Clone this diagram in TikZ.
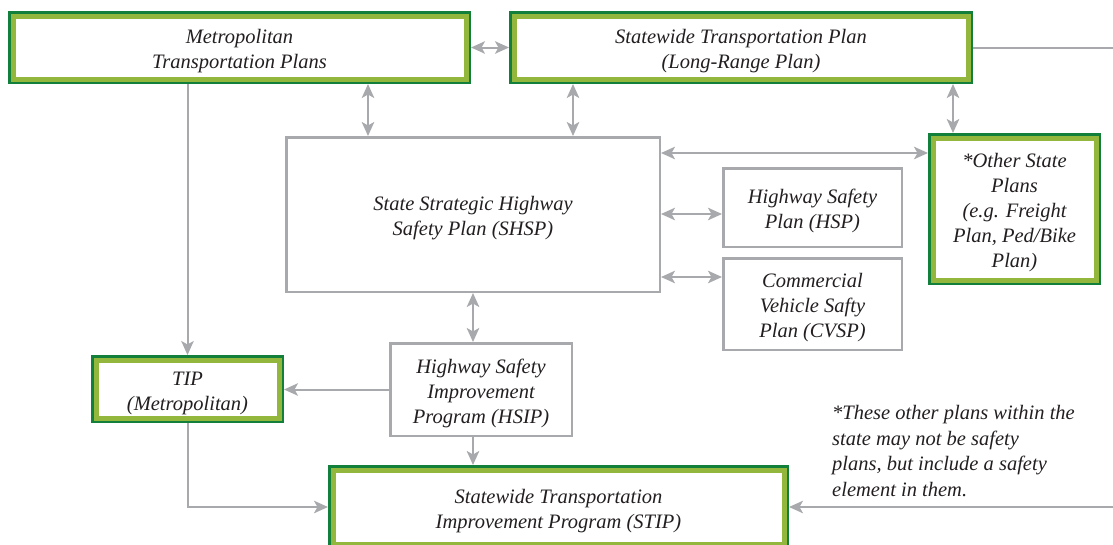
\documentclass[tikz,border=0pt]{standalone}
\usepackage{fontspec}
\setmainfont{Liberation Serif}
\usetikzlibrary{arrows.meta}
\definecolor{dg}{RGB}{18,128,58}
\definecolor{lg}{RGB}{146,183,60}
\definecolor{gr}{RGB}{167,169,172}
\definecolor{tx}{RGB}{35,31,32}
\newcommand\gfr[1]{\draw[dg,line width=2.5pt] ([shift={(1.25pt,-1.25pt)}]#1.north west) rectangle ([shift={(-1.25pt,1.25pt)}]#1.south east);}
\newcommand\tp{\rule{0pt}{21.5pt}}
\tikzset{
  txt/.style={font=\fontsize{20.5}{25}\selectfont\itshape, text=tx, align=center, inner sep=0pt},
  greenbox/.style={txt, draw=lg, line width=5pt, fill=white, outer sep=5pt},
  graybox/.style={txt, draw=gr, line width=2.5pt, fill=white},
  conn/.style={draw=gr, line width=2pt},
  tipstyle/.style={},
  arr/.style={conn, -{Stealth[length=14pt,width=12.5pt,inset=3.5pt]}},
  dbl/.style={conn, {Stealth[length=14pt,width=12.5pt,inset=3.5pt]}-{Stealth[length=14pt,width=12.5pt,inset=3.5pt]}}
}
\begin{document}
\begin{tikzpicture}[x=1pt,y=-1pt]
\path[use as bounding box] (0,0) rectangle (1113,544);
\clip (0,0) rectangle (1113,544);
% nodes
\node[greenbox, minimum width=453, minimum height=63] (metro) at (239.5,47.5) {\tp Metropolitan\\Transportation Plans};
\gfr{metro}
\node[greenbox, minimum width=454, minimum height=63] (stp) at (741,47.5) {\tp Statewide Transportation Plan\\(Long-Range Plan)};
\gfr{stp}
\node[graybox, minimum width=373.5, minimum height=154.5] (shsp) at (473,214.5) {\tp State Strategic Highway\\Safety Plan (SHSP)};
\node[graybox, minimum width=178.5, minimum height=78.5] (hsp) at (812.5,207.5) {\tp Highway Safety\\Plan (HSP)};
\node[graybox, minimum width=178.5, minimum height=91.5] (cvsp) at (812.5,304) {\tp Commercial\\Vehicle Safty\\Plan (CVSP)};
\node[greenbox, minimum width=163, minimum height=142] (other) at (1014.5,209) {\tp *Other State\\Plans\\(e.g. Freight\\Plan, Ped/Bike\\Plan)};
\gfr{other}
\node[greenbox, minimum width=183, minimum height=58] (tip) at (187.5,389) {\tp TIP\\(Metropolitan)};
\gfr{tip}
\node[graybox, minimum width=181.5, minimum height=92.5] (hsip) at (481,389.5) {\tp Highway Safety\\Improvement\\Program (HSIP)};
\node[greenbox, minimum width=451, minimum height=74] (stip) at (558.5,507) {\tp Statewide Transportation\\Improvement Program (STIP)};
\gfr{stip}
\node[txt, font=\fontsize{20.5}{25.7}\selectfont\itshape, align=left, anchor=north west] (note) at (832,405) {*These other plans within the\\state may not be safety\\plans, but include a safety\\element in them.};
% helper coordinates
\coordinate (xa) at (368,0);
\coordinate (xb) at (573,0);
\coordinate (xc) at (953,0);
\coordinate (ya) at (0,153);
\coordinate (yb) at (0,214);
\coordinate (yc) at (0,277);
\coordinate (outa) at (1113,47.5);
\coordinate (outb) at (1113,507);
% connectors
\draw[dbl] (metro.east) -- (stp.west);
\draw[arr] (metro.south -| tip.north) -- (tip.north);
\draw[dbl] (metro.south -| xa) -- (shsp.north -| xa);
\draw[dbl] (stp.south -| xb) -- (shsp.north -| xb);
\draw[dbl] (stp.south -| xc) -- (other.north -| xc);
\draw[dbl] (shsp.east |- ya) -- (other.west |- ya);
\draw[dbl] (shsp.east |- yb) -- (hsp.west |- yb);
\draw[dbl] (shsp.east |- yc) -- (cvsp.west |- yc);
\draw[dbl] (shsp.south) -- (hsip.north -| shsp.south);
\draw[arr] (hsip.west) -- (tip.east |- hsip.west);
\draw[arr] (hsip.south -| shsp.south) -- (stip.north -| shsp.south);
\draw[arr] (tip.south) |- (stip.west);
\draw[conn] (stp.east) -- (outa);
\draw[arr] (outb) -- (stip.east);
\end{tikzpicture}
\end{document}
